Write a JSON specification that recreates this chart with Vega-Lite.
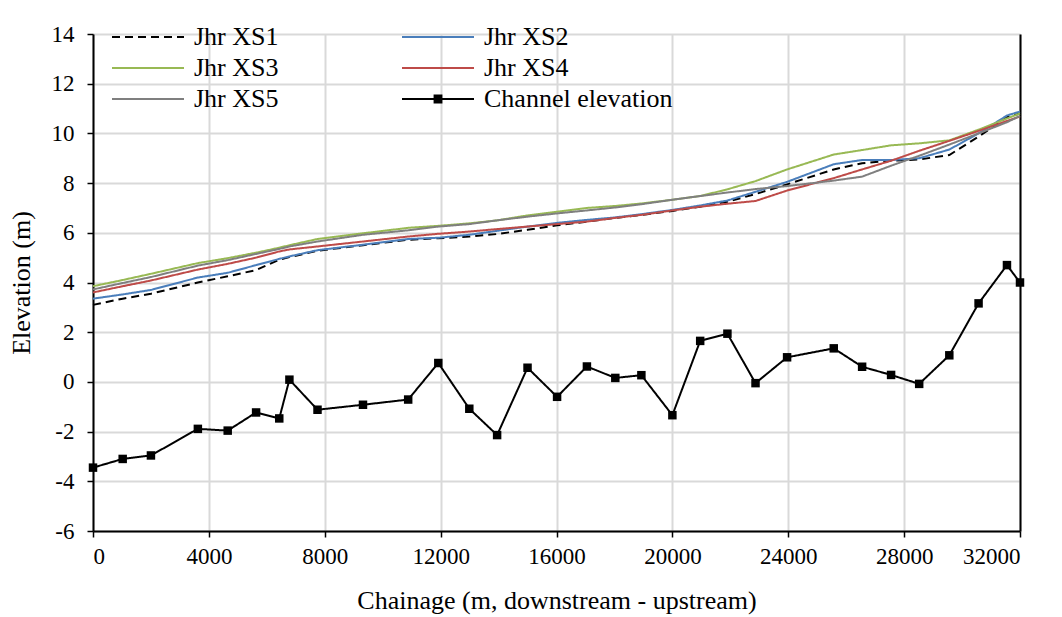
{
  "$schema": "https://vega.github.io/schema/vega-lite/v6.json",
  "width": 927,
  "height": 497,
  "autosize": {"type": "none"},
  "padding": {"left": 93, "top": 34, "right": 42, "bottom": 86},
  "background": "white",
  "config": {
    "font": "Liberation Serif",
    "view": {"stroke": null},
    "axis": {
      "labelFont": "Liberation Serif",
      "titleFont": "Liberation Serif",
      "labelFontSize": 23,
      "titleFontSize": 26,
      "titleFontWeight": "normal",
      "labelColor": "black",
      "titleColor": "black",
      "domainColor": "black",
      "domainWidth": 2,
      "tickColor": "black",
      "tickWidth": 1.5,
      "tickSize": 6,
      "gridColor": "#d9d9d9",
      "gridWidth": 2
    }
  },
  "data": {
    "values": [
      {"ch": 0, "Jhr XS1": 3.1, "Jhr XS2": 3.35, "Jhr XS3": 3.85, "Jhr XS4": 3.6, "Jhr XS5": 3.72, "Channel elevation": -3.45},
      {"ch": 1025, "Jhr XS1": 3.35, "Jhr XS2": 3.52, "Jhr XS3": 4.1, "Jhr XS4": 3.85, "Jhr XS5": 3.98, "Channel elevation": -3.1},
      {"ch": 2000, "Jhr XS1": 3.55, "Jhr XS2": 3.7, "Jhr XS3": 4.35, "Jhr XS4": 4.08, "Jhr XS5": 4.22, "Channel elevation": -2.96},
      {"ch": 3620, "Jhr XS1": 4.0, "Jhr XS2": 4.2, "Jhr XS3": 4.78, "Jhr XS4": 4.52, "Jhr XS5": 4.68, "Channel elevation": -1.89},
      {"ch": 4650, "Jhr XS1": 4.25, "Jhr XS2": 4.39, "Jhr XS3": 4.98, "Jhr XS4": 4.75, "Jhr XS5": 4.9, "Channel elevation": -1.96},
      {"ch": 5630, "Jhr XS1": 4.5, "Jhr XS2": 4.7, "Jhr XS3": 5.2, "Jhr XS4": 5.0, "Jhr XS5": 5.15, "Channel elevation": -1.23},
      {"ch": 6430, "Jhr XS1": 4.92, "Jhr XS2": 4.95, "Jhr XS3": 5.4, "Jhr XS4": 5.25, "Jhr XS5": 5.35, "Channel elevation": -1.47},
      {"ch": 6780, "Jhr XS1": 5.02, "Jhr XS2": 5.05, "Jhr XS3": 5.5, "Jhr XS4": 5.33, "Jhr XS5": 5.45, "Channel elevation": 0.09},
      {"ch": 7750, "Jhr XS1": 5.28, "Jhr XS2": 5.3, "Jhr XS3": 5.75, "Jhr XS4": 5.45, "Jhr XS5": 5.65, "Channel elevation": -1.12},
      {"ch": 9320, "Jhr XS1": 5.5, "Jhr XS2": 5.52, "Jhr XS3": 5.98, "Jhr XS4": 5.65, "Jhr XS5": 5.92, "Channel elevation": -0.92},
      {"ch": 10880, "Jhr XS1": 5.72, "Jhr XS2": 5.75, "Jhr XS3": 6.2, "Jhr XS4": 5.85, "Jhr XS5": 6.1, "Channel elevation": -0.71},
      {"ch": 11920, "Jhr XS1": 5.78, "Jhr XS2": 5.8, "Jhr XS3": 6.28, "Jhr XS4": 5.96, "Jhr XS5": 6.25, "Channel elevation": 0.76},
      {"ch": 12990, "Jhr XS1": 5.85, "Jhr XS2": 5.92, "Jhr XS3": 6.38, "Jhr XS4": 6.05, "Jhr XS5": 6.35, "Channel elevation": -1.08},
      {"ch": 13950, "Jhr XS1": 5.95, "Jhr XS2": 6.08, "Jhr XS3": 6.5, "Jhr XS4": 6.15, "Jhr XS5": 6.5, "Channel elevation": -2.14},
      {"ch": 15000, "Jhr XS1": 6.12, "Jhr XS2": 6.25, "Jhr XS3": 6.7, "Jhr XS4": 6.25, "Jhr XS5": 6.65, "Channel elevation": 0.57},
      {"ch": 16020, "Jhr XS1": 6.3, "Jhr XS2": 6.4, "Jhr XS3": 6.85, "Jhr XS4": 6.35, "Jhr XS5": 6.78, "Channel elevation": -0.6},
      {"ch": 17050, "Jhr XS1": 6.45, "Jhr XS2": 6.52, "Jhr XS3": 7.0, "Jhr XS4": 6.45, "Jhr XS5": 6.9, "Channel elevation": 0.62},
      {"ch": 18030, "Jhr XS1": 6.6, "Jhr XS2": 6.62, "Jhr XS3": 7.08, "Jhr XS4": 6.6, "Jhr XS5": 7.02, "Channel elevation": 0.16},
      {"ch": 18930, "Jhr XS1": 6.72, "Jhr XS2": 6.75, "Jhr XS3": 7.18, "Jhr XS4": 6.72, "Jhr XS5": 7.15, "Channel elevation": 0.27},
      {"ch": 20000, "Jhr XS1": 6.88, "Jhr XS2": 6.92, "Jhr XS3": 7.33, "Jhr XS4": 6.9, "Jhr XS5": 7.33, "Channel elevation": -1.34},
      {"ch": 20960, "Jhr XS1": 7.05, "Jhr XS2": 7.1, "Jhr XS3": 7.48, "Jhr XS4": 7.05, "Jhr XS5": 7.48, "Channel elevation": 1.65},
      {"ch": 21900, "Jhr XS1": 7.25, "Jhr XS2": 7.3, "Jhr XS3": 7.75, "Jhr XS4": 7.17, "Jhr XS5": 7.62, "Channel elevation": 1.94},
      {"ch": 22870, "Jhr XS1": 7.56, "Jhr XS2": 7.65, "Jhr XS3": 8.08, "Jhr XS4": 7.28, "Jhr XS5": 7.76, "Channel elevation": -0.05},
      {"ch": 23960, "Jhr XS1": 7.95, "Jhr XS2": 8.05, "Jhr XS3": 8.55, "Jhr XS4": 7.7, "Jhr XS5": 7.88, "Channel elevation": 0.99},
      {"ch": 25570, "Jhr XS1": 8.55, "Jhr XS2": 8.76, "Jhr XS3": 9.15, "Jhr XS4": 8.2, "Jhr XS5": 8.1, "Channel elevation": 1.35},
      {"ch": 26550, "Jhr XS1": 8.8, "Jhr XS2": 8.93, "Jhr XS3": 9.33, "Jhr XS4": 8.55, "Jhr XS5": 8.26, "Channel elevation": 0.61},
      {"ch": 27550, "Jhr XS1": 8.9, "Jhr XS2": 8.93, "Jhr XS3": 9.52, "Jhr XS4": 8.9, "Jhr XS5": 8.7, "Channel elevation": 0.28},
      {"ch": 28520, "Jhr XS1": 8.95, "Jhr XS2": 9.0, "Jhr XS3": 9.6, "Jhr XS4": 9.3, "Jhr XS5": 9.1, "Channel elevation": -0.08},
      {"ch": 29560, "Jhr XS1": 9.13, "Jhr XS2": 9.35, "Jhr XS3": 9.72, "Jhr XS4": 9.7, "Jhr XS5": 9.55, "Channel elevation": 1.07},
      {"ch": 30570, "Jhr XS1": 9.87, "Jhr XS2": 10.0, "Jhr XS3": 10.15, "Jhr XS4": 10.1, "Jhr XS5": 10.0, "Channel elevation": 3.16},
      {"ch": 31550, "Jhr XS1": 10.65, "Jhr XS2": 10.72, "Jhr XS3": 10.6, "Jhr XS4": 10.5, "Jhr XS5": 10.45, "Channel elevation": 4.7},
      {"ch": 32000, "Jhr XS1": 10.8, "Jhr XS2": 10.88, "Jhr XS3": 10.8, "Jhr XS4": 10.68, "Jhr XS5": 10.7, "Channel elevation": 4.0}
    ]
  },
  "transform": [
    {"fold": ["Jhr XS1", "Jhr XS2", "Jhr XS3", "Jhr XS4", "Jhr XS5", "Channel elevation"], "as": ["series", "elev"]}
  ],
  "encoding": {
    "x": {
      "field": "ch",
      "type": "quantitative",
      "scale": {"domain": [0, 32000], "nice": false, "zero": false},
      "axis": {
        "values": [0, 4000, 8000, 12000, 16000, 20000, 24000, 28000, 32000],
        "labelExpr": "'' + datum.value",
        "title": "Chainage (m, downstream - upstream)",
        "labelPadding": 8,
        "titlePadding": 19
      }
    }
  },
  "layer": [
    {
      "mark": {"type": "line", "strokeWidth": 2},
      "encoding": {
        "y": {
          "field": "elev",
          "type": "quantitative",
          "scale": {"domain": [-6, 14], "nice": false, "zero": false},
          "axis": {
            "values": [-6, -4, -2, 0, 2, 4, 6, 8, 10, 12, 14],
            "labelExpr": "'' + datum.value",
            "title": "Elevation (m)",
            "labelPadding": 13,
            "titlePadding": 17
          }
        },
        "color": {
          "field": "series",
          "type": "nominal",
          "scale": {
            "domain": ["Jhr XS1", "Jhr XS2", "Jhr XS3", "Jhr XS4", "Jhr XS5", "Channel elevation"],
            "range": ["#000000", "#4a7ebb", "#98b954", "#be4b48", "#7f7f7f", "#000000"]
          },
          "legend": {
            "orient": "none",
            "legendX": 15,
            "legendY": -10,
            "direction": "horizontal",
            "columns": 2,
            "title": null,
            "padding": 0,
            "symbolType": "M-4,0H4",
            "symbolSize": 324,
            "symbolOffset": 27,
            "symbolStrokeWidth": 2,
            "labelFont": "Liberation Serif",
            "labelFontSize": 26,
            "labelColor": "black",
            "labelOffset": 33,
            "labelLimit": 400,
            "columnPadding": 119,
            "rowPadding": 5,
            "encode": {
              "symbols": {
                "update": {
                  "shape": {"signal": "datum.value === 'Channel elevation' ? 'M-4,0H4M-0.38,-0.38H0.38V0.38H-0.38Z' : 'M-4,0H4'"},
                  "fill": {"signal": "datum.value === 'Channel elevation' ? 'black' : 'transparent'"},
                  "strokeDash": {"signal": "datum.value === 'Jhr XS1' ? [8, 5] : [1, 0]"},
                  "strokeWidth": {"value": 2}
                }
              }
            }
          }
        },
        "strokeDash": {
          "field": "series",
          "type": "nominal",
          "scale": {
            "domain": ["Jhr XS1", "Jhr XS2", "Jhr XS3", "Jhr XS4", "Jhr XS5", "Channel elevation"],
            "range": [[8, 5], [1, 0], [1, 0], [1, 0], [1, 0], [1, 0]]
          },
          "legend": null
        }
      }
    },
    {
      "transform": [{"filter": "datum.series === 'Channel elevation'"}],
      "mark": {"type": "point", "shape": "square", "filled": true, "size": 72, "color": "black", "opacity": 1},
      "encoding": {
        "y": {
          "field": "elev",
          "type": "quantitative",
          "axis": {"orient": "right", "labels": false, "ticks": false, "grid": false, "title": null}
        }
      }
    }
  ],
  "resolve": {"axis": {"y": "independent"}}
}
